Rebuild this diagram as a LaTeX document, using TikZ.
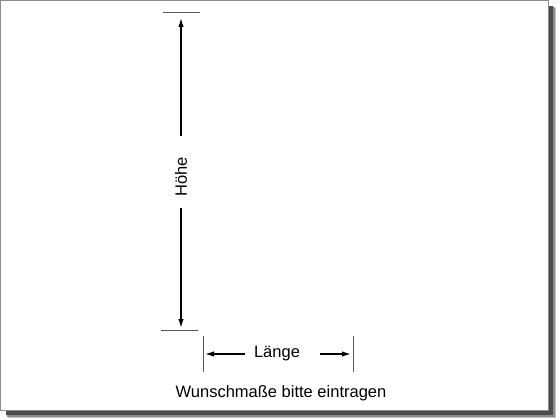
\documentclass[tikz,border=0pt]{standalone}
\usepackage{fontspec}
\setmainfont{Liberation Sans}
\usetikzlibrary{arrows.meta,positioning}
\tikzset{
  dimline/.style={line width=1.4pt, -{Latex[length=9pt,width=5.5pt]}},
  extline/.style={line width=0.9pt, draw=black!65},
  dimtext/.style={font=\fontsize{16.5}{20}\selectfont, inner sep=3pt},
}

\begin{document}
\begin{tikzpicture}[x=1pt,y=-1pt]
        \useasboundingbox (0,0) rectangle (560,420);

        % frame with shadow
        \fill[black!25] (8,8) rectangle (556,418);
        \fill[black!45] (7,7) rectangle (554.5,416.5);
        \fill[black!70] (6,6) rectangle (553,415);
        \draw[fill=white, draw=black!45, line width=1pt] (0.5,0.5) rectangle (548.5,410.5);

        % Hoehe
        \coordinate (htop) at (181,12);
        \coordinate (hbot) at (181,330);
        \draw[extline] ([xshift=-18pt]htop) -- ([xshift=19pt]htop);
        \draw[extline] ([xshift=-20pt]hbot) -- ([xshift=17pt]hbot);
        \node[dimtext, rotate=90] (hoehe) at (181,177) {Höhe};
        \draw[dimline, shorten >=6pt] ([yshift=18pt]hoehe.east) -- (htop);
        \draw[dimline, shorten >=2pt] ([yshift=-8pt]hoehe.west) -- (hbot);

        % Laenge
        \coordinate (lleft) at (203,354);
        \coordinate (lright) at (353,354);
        \draw[extline] ([yshift=18pt]lleft) -- ([yshift=-18pt]lleft);
        \draw[extline] ([yshift=18pt]lright) -- ([yshift=-18pt]lright);
        \node[dimtext] (laenge) at (277,354) {Länge};
        \draw[dimline, shorten >=2pt] ([xshift=-6pt]laenge.west) -- (lleft);
        \draw[dimline, shorten >=2pt] ([xshift=17pt]laenge.east) -- (lright);

        % caption
        \node[dimtext] (hinweis) at (281,393) {Wunschmaße bitte eintragen};

\end{tikzpicture}
\end{document}
